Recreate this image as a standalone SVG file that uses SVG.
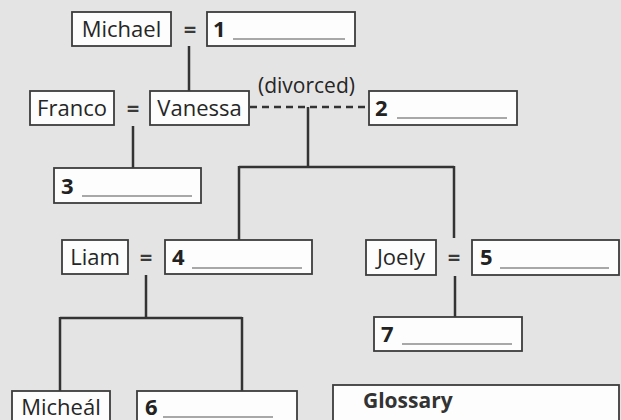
<svg xmlns="http://www.w3.org/2000/svg" width="621" height="420" viewBox="0 0 621 420">
<style>
.bg{fill:#e4e4e4}
.box{fill:#fdfdfd;stroke:#3c3c3c;stroke-width:1.8}
.name{font-family:"Open Sans","Noto Sans",sans-serif;font-size:22px;font-weight:500;fill:#262626;text-anchor:middle}
.eq{font-family:"Open Sans","Noto Sans",sans-serif;font-size:22px;font-weight:bold;fill:#3a3a3a;text-anchor:middle}
.num{font-family:"Open Sans","Noto Sans",sans-serif;font-size:22px;font-weight:bold;fill:#222}
.ul{stroke:#555;stroke-width:1.2}
.ln{stroke:#333;stroke-width:2.5;fill:none}
.dash{stroke:#333;stroke-width:2.5;stroke-dasharray:7,5;fill:none}
.lbl{font-family:"Open Sans","Noto Sans",sans-serif;font-size:21px;font-weight:500;fill:#262626}
.gl{font-family:"Open Sans","Noto Sans",sans-serif;font-size:21px;font-weight:bold;fill:#333}
</style>
<rect class="bg" x="0" y="0" width="621" height="420"/>
<g id="connectors">
<line class="ln" x1="189" y1="46" x2="189" y2="91"/>
<line class="dash" x1="250" y1="107" x2="369" y2="107"/>
<line class="ln" x1="308" y1="107" x2="308" y2="167"/>
<line class="ln" x1="239" y1="167" x2="454" y2="167"/>
<line class="ln" x1="239" y1="166" x2="239" y2="240"/>
<line class="ln" x1="454" y1="166" x2="454" y2="238"/>
<line class="ln" x1="133" y1="126" x2="133" y2="168"/>
<line class="ln" x1="146" y1="275" x2="146" y2="318"/>
<line class="ln" x1="60" y1="318" x2="242" y2="318"/>
<line class="ln" x1="60" y1="317" x2="60" y2="391"/>
<line class="ln" x1="242" y1="317" x2="242" y2="391"/>
<line class="ln" x1="455" y1="276" x2="455" y2="317"/>
</g>
<g id="eqs">
<text class="eq" x="190" y="37">=</text>
<text class="eq" x="133" y="116">=</text>
<text class="eq" x="146" y="265">=</text>
<text class="eq" x="454" y="265">=</text>
<text class="lbl" x="258" y="93">(divorced)</text>
</g>
<g id="michael"><rect class="box" x="72" y="12" width="99" height="34"/><text class="name" x="121.5" y="37">Michael</text></g>
<g id="n1"><rect class="box" x="207" y="12" width="148" height="34"/><text class="num" x="213" y="37">1</text><line class="ul" x1="233" y1="39" x2="345" y2="39"/></g>
<g id="franco"><rect class="box" x="30" y="91" width="84" height="34"/><text class="name" x="72" y="116">Franco</text></g>
<g id="vanessa"><rect class="box" x="150" y="91" width="99" height="34"/><text class="name" x="199.5" y="116">Vanessa</text></g>
<g id="n2"><rect class="box" x="369" y="91" width="148" height="34"/><text class="num" x="375" y="116">2</text><line class="ul" x1="397" y1="118" x2="507" y2="118"/></g>
<g id="n3"><rect class="box" x="54" y="168" width="147" height="35"/><text class="num" x="61" y="194">3</text><line class="ul" x1="82" y1="196" x2="192" y2="196"/></g>
<g id="liam"><rect class="box" x="62" y="240" width="66" height="34"/><text class="name" x="95" y="265">Liam</text></g>
<g id="n4"><rect class="box" x="165" y="240" width="147" height="34"/><text class="num" x="172" y="265">4</text><line class="ul" x1="192" y1="268" x2="302" y2="268"/></g>
<g id="joely"><rect class="box" x="366" y="240" width="70" height="35"/><text class="name" x="401" y="265">Joely</text></g>
<g id="n5"><rect class="box" x="472" y="240" width="147" height="35"/><text class="num" x="480" y="265">5</text><line class="ul" x1="500" y1="268" x2="609" y2="268"/></g>
<g id="n7"><rect class="box" x="374" y="317" width="148" height="34"/><text class="num" x="381" y="342">7</text><line class="ul" x1="402" y1="344" x2="512" y2="344"/></g>
<g id="micheal"><rect class="box" x="12" y="391" width="98" height="40"/><text class="name" x="61" y="415">Micheál</text></g>
<g id="n6"><rect class="box" x="137" y="391" width="160" height="40"/><text class="num" x="145" y="415">6</text><line class="ul" x1="163" y1="417" x2="273" y2="417"/></g>
<g id="glossary"><rect class="box" x="333" y="385" width="286" height="50"/><text class="gl" x="363" y="408">Glossary</text></g>
</svg>
